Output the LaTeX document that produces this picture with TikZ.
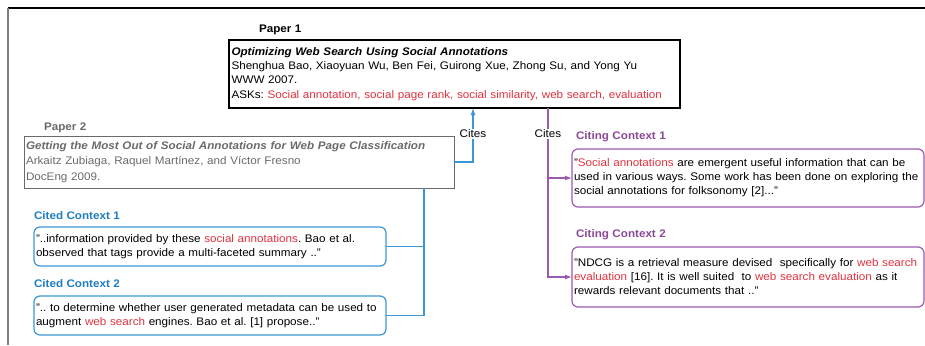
\documentclass[tikz,border=0pt]{standalone}
\usepackage{fontspec}
\setmainfont[FakeStretch=1.06,WordSpace=1.06]{Liberation Sans}
\usetikzlibrary{arrows.meta}
\definecolor{cblue}{HTML}{1F7DC1}
\definecolor{lblue}{HTML}{3A97D4}
\definecolor{cpurple}{HTML}{8B4A97}
\definecolor{lpurple}{HTML}{9B59B0}
\definecolor{cred}{HTML}{E0323F}
\definecolor{pgray}{HTML}{6A6A6A}
\newcommand{\rd}[1]{\textcolor{cred}{#1}}
\newcommand{\nohyph}{\hyphenpenalty=10000\exhyphenpenalty=10000\frenchspacing}
\tikzset{
  every node/.style={inner sep=0pt, outer sep=0pt},
  basefont/.style={font=\fontsize{11}{14}\selectfont\nohyph},
  p1box/.style={draw=black, line width=1.2pt, anchor=north west, inner xsep=2.5pt,
    text width=446pt, minimum width=451pt, minimum height=68pt, align=left,
    font=\fontsize{11}{14.3}\selectfont\nohyph},
  p2box/.style={draw=pgray, line width=1pt, anchor=north west, inner xsep=2pt,
    text width=426pt, minimum width=430pt, minimum height=52pt, align=left,
    text=pgray, font=\fontsize{11}{15.5}\selectfont\nohyph},
  ctxbox/.style={line width=1.2pt, rounded corners=6pt, anchor=north west, inner xsep=2pt,
    text width=348pt, minimum width=352pt, align=left, basefont},
  citedbox/.style={ctxbox, draw=lblue, minimum height=39pt},
  citingbox/.style={ctxbox, draw=lpurple},
  lbl/.style={anchor=west, font=\bfseries\fontsize{11}{14}\selectfont},
  citeslbl/.style={fill=white, inner sep=1pt, basefont},
  bluearrow/.style={draw=lblue, line width=1.2pt},
  purplearrow/.style={draw=lpurple, line width=1.2pt},
  tip/.style={-{Latex[length=7pt,width=5pt]}}
}
\begin{document}
\begin{tikzpicture}[x=1pt,y=-1pt]
\useasboundingbox (0,0) rectangle (925,345);
% frame
\coordinate (fTL) at (8,8);
\coordinate (fTR) at (925,8);
\coordinate (fBL) at (8,345);
\draw[black, line width=1.3pt] (fTL) -- (fTR);
\draw[gray, line width=2pt] (fTL) -- (fBL);

% Paper 1
\node[lbl] (p1lbl) at (259,30) {Paper 1};
\node[p1box] (p1) at (229,40) {\textbf{\textit{Optimizing Web Search Using Social Annotations}}\\
Shenghua Bao, Xiaoyuan Wu, Ben Fei, Guirong Xue, Zhong Su, and Yong Yu\\
WWW 2007.\\
ASKs: \rd{Social annotation, social page rank, social similarity, web search, evaluation}};

% Paper 2
\node[lbl, text=pgray] (p2lbl) at (44,128) {Paper 2};
\node[p2box] (p2) at (24,136) {\textbf{\textit{Getting the Most Out of Social Annotations for Web Page Classification}}\\
Arkaitz Zubiaga, Raquel Martínez, and Víctor Fresno\\
DocEng 2009.};

% Cited contexts
\node[lbl, text=cblue] (c1lbl) at (34,216) {Cited Context 1};
\node[citedbox] (c1) at (34,227) {"..information provided by these \rd{social annotations}. Bao et al. observed that tags provide a multi-faceted summary .."};
\node[lbl, text=cblue] (c2lbl) at (34,284) {Cited Context 2};
\node[citedbox] (c2) at (34,296) {".. to determine whether user generated metadata can be used to augment \rd{web search} engines. Bao et al. [1] propose.."};

% Citing contexts
\node[lbl, text=cpurple] (ct1lbl) at (576,137) {Citing Context 1};
\node[citingbox, minimum height=58pt] (ct1) at (572,149) {"\rd{Social annotations} are emergent useful information that can be used in various ways. Some work has been done on exploring the social annotations for folksonomy [2]..."};
\node[lbl, text=cpurple] (ct2lbl) at (576,235) {Citing Context 2};
\node[citingbox, minimum height=60pt] (ct2) at (572,247) {"NDCG is a retrieval measure devised\ \ specifically for \rd{web search}\\\rd{evaluation} [16]. It is well suited\ \ to \rd{web search evaluation} as it rewards relevant documents that .."};

% Blue connectors
\coordinate (bj) at (473,162);
\draw[bluearrow, tip] (p2.east) -- (bj) -- (bj |- p1.south);
\node[citeslbl] (cites1) at (473,134) {Cites};
\coordinate (btop) at (p2.south -| 424,0);
\draw[bluearrow] (btop) |- (c2.east);
\draw[bluearrow] (c1.east) -- (c1.east -| btop);

% Purple connectors
\coordinate (ptop) at (p1.south -| 548,0);
\draw[purplearrow, tip] (ptop) |- (ct2.west);
\draw[purplearrow, tip] (ct1.west -| ptop) -- (ct1.west);
\node[citeslbl] (cites2) at (548,134) {Cites};
\end{tikzpicture}
\end{document}
